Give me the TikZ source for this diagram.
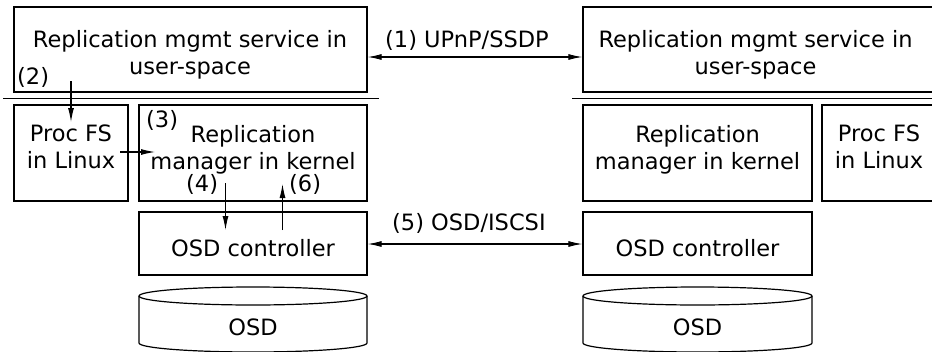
\documentclass[tikz,border=0pt]{standalone}
\usepackage{fontspec}
\setmainfont{DejaVu Sans}
\usetikzlibrary{arrows.meta}
\tikzset{
  box/.style={draw, line width=1.2pt, rectangle, inner sep=0pt},
  txt/.style={inner sep=0pt, align=center, font=\fontsize{22.5}{27}\selectfont},
  lbl/.style={inner sep=0pt, anchor=base west, font=\fontsize{22.5}{27}\selectfont},
  tip/.style={Latex[length=14pt,width=6pt]},
  conn/.style={line width=1.1pt, -{Latex[length=14pt,width=6pt]}},
  dconn/.style={line width=1.1pt, {Latex[length=14pt,width=6pt]}-{Latex[length=14pt,width=6pt]}},
  sep/.style={line width=1.4pt},
  cyl/.style={line width=1.2pt},
}
\begin{document}
\begin{tikzpicture}[x=1pt,y=-1pt]
\useasboundingbox (0,0) rectangle (932,351);
% left side
\node[box, minimum width=353pt, minimum height=85pt] (lu) at (190.5,49.5) {};
\node[txt] (lut) at (190,55) {Replication mgmt service in\\user-space};
\coordinate (lsA) at (3,98.5);
\coordinate (lsB) at (379,98.5);
\draw[sep] (lsA) -- (lsB);
\node[box, minimum width=114pt, minimum height=96pt] (lp) at (71,153) {};
\node[txt] (lpt) at (71,147) {Proc FS\\in Linux};
\node[box, minimum width=228pt, minimum height=96pt] (lr) at (253,153) {};
\node[txt] (lrt) at (253,149.5) {Replication\\manager in kernel};
\node[box, minimum width=228pt, minimum height=63pt] (lo) at (253,243.5) {};
\node[txt, anchor=base] (lot) at (253,256) {OSD controller};
% left cylinder
\draw[cyl] (253,296) ellipse [x radius=114pt, y radius=9pt];
\draw[cyl] (139,296) -- (139,343) arc[start angle=180, end angle=360, x radius=114pt, y radius=9pt] -- (367,296);
\node[txt, anchor=base] (ldt) at (253,335) {OSD};
% right side
\node[box, minimum width=365pt, minimum height=85pt] (ru) at (765.5,49.5) {};
\node[txt] (rut) at (755.5,55) {Replication mgmt service in\\user-space};
\coordinate (rsA) at (572,98.5);
\coordinate (rsB) at (940,98.5);
\draw[sep] (rsA) -- (rsB);
\node[box, minimum width=229pt, minimum height=96pt] (rr) at (697.5,153) {};
\node[txt] (rrt) at (697.5,149.5) {Replication\\manager in kernel};
\node[box, minimum width=125pt, minimum height=96pt] (rp) at (884.5,153) {};
\node[txt] (rpt) at (879,147) {Proc FS\\in Linux};
\node[box, minimum width=229pt, minimum height=63pt] (ro) at (697.5,243.5) {};
\node[txt, anchor=base] (rot) at (697.5,256) {OSD controller};
\draw[cyl] (697.5,296) ellipse [x radius=114.5pt, y radius=9pt];
\draw[cyl] (583,296) -- (583,343) arc[start angle=180, end angle=360, x radius=114.5pt, y radius=9pt] -- (812,296);
\node[txt, anchor=base] (rdt) at (697.5,335) {OSD};
% connectors
\draw[dconn] (lu.east |- 0,57) -- (ru.west |- 0,57);
\node[lbl] (l1) at (385,47) {(1) UPnP/SSDP};
\draw[dconn] (lo.east |- 0,244) -- (ro.west |- 0,244);
\node[lbl] (l5) at (392,230) {(5) OSD/ISCSI};
\coordinate (a2s) at (71,81);
\coordinate (a2e) at (71,122);
\draw[conn] (a2s) -- (a2e);
\node[lbl] (l2) at (17,84) {(2)};
\coordinate (a3s) at (120,152);
\coordinate (a3e) at (155,152);
\draw[conn] (a3s) -- (a3e);
\node[lbl] (l3) at (146,127) {(3)};
\coordinate (a4s) at (225.5,183);
\coordinate (a4e) at (225.5,230);
\draw[conn] (a4s) -- (a4e);
\node[lbl] (l4) at (186,191) {(4)};
\coordinate (a6s) at (282.5,230);
\coordinate (a6e) at (282.5,184);
\draw[conn] (a6s) -- (a6e);
\node[lbl] (l6) at (289,191) {(6)};
\end{tikzpicture}
\end{document}
